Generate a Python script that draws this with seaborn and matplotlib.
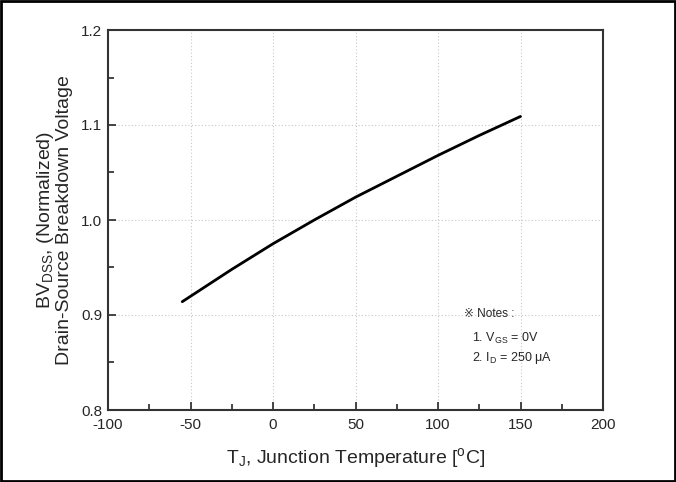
import seaborn as sns
import numpy as np
import matplotlib.pyplot as plt
import pandas as pd
from matplotlib.ticker import MultipleLocator

" DATA "
temp = [-55, -25, 0, 25, 50, 75, 100, 125, 150]
bv_norm = [0.914, 0.948, 0.975, 1.000, 1.024, 1.046, 1.068, 1.089, 1.109]
x_ticks = [-100, -50, 0, 50, 100, 150, 200]
y_ticks = [0.8, 0.9, 1.0, 1.1, 1.2]
notes = ["\u203b Notes :", "1. V$_{GS}$ = 0V", "2. I$_D$ = 250 \u03bcA"]

sns.set_style("white")
plt.rcParams['font.family'] = ['Liberation Sans Narrow', 'Liberation Sans', 'DejaVu Sans']
plt.rcParams['mathtext.fontset'] = 'custom'
plt.rcParams['mathtext.rm'] = 'Liberation Sans'
plt.rcParams['mathtext.it'] = 'Liberation Sans'

df = pd.DataFrame({'T': temp, 'BV': bv_norm})

fig = plt.figure(figsize=(6.76, 4.82), dpi=100)
ax = fig.add_axes([108 / 676, 72 / 482, 495 / 676, 380 / 482])
sns.lineplot(data=df, x='T', y='BV', color='black', linewidth=2, ax=ax)

ax.set_xlim(-100, 200)
ax.set_ylim(0.8, 1.2)
ax.set_xticks(x_ticks)
ax.set_yticks(y_ticks)
ax.set_xticklabels([str(v) for v in x_ticks])
ax.set_yticklabels([f"{v:.1f}" for v in y_ticks])
ax.xaxis.set_minor_locator(MultipleLocator(25))
ax.yaxis.set_minor_locator(MultipleLocator(0.05))
ax.tick_params(which='major', direction='in', length=6, width=1.2, labelsize=11,
               bottom=True, left=True, top=False, right=False)
ax.tick_params(axis='x', which='major', pad=6)
ax.tick_params(axis='y', which='major', pad=4)
ax.tick_params(which='minor', direction='in', length=4, width=1.2,
               bottom=True, left=True, top=False, right=False)
ax.grid(True, which='major', linestyle=(0, (1, 2)), color='#c8c8c8', linewidth=0.8)
for s in ax.spines.values():
    s.set_color('#333333')
    s.set_linewidth(1.5)

ax.set_xlabel("T$_J$, Junction Temperature [$^o$C]", fontsize=14, labelpad=10)
ax.set_ylabel("BV$_{DSS}$, (Normalized)\nDrain-Source Breakdown Voltage", fontsize=14,
              labelpad=6, linespacing=1.0)

ax.text(0.72, 0.245, notes[0], transform=ax.transAxes, fontsize=8.5)
ax.text(0.735, 0.18, notes[1], transform=ax.transAxes, fontsize=9)
ax.text(0.735, 0.13, notes[2], transform=ax.transAxes, fontsize=9)

fig.patches.append(plt.Rectangle((0.002, 0.003), 0.996, 0.994, transform=fig.transFigure,
                                 fill=False, edgecolor='black', linewidth=2))

plt.savefig("out.png", dpi=100)
